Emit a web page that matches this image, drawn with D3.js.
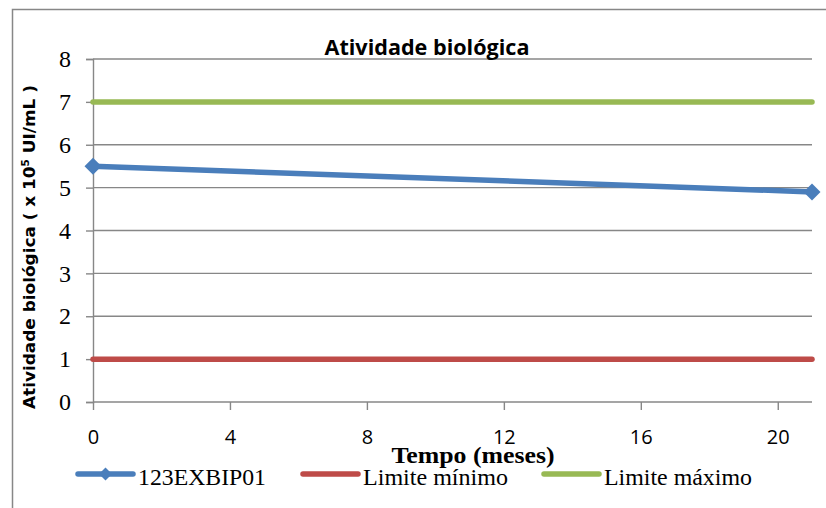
<!DOCTYPE html>
<html lang="pt">
<head>
  <meta charset="UTF-8">
  <title>Atividade biológica</title>
  <script src="https://d3js.org/d3.v7.min.js"></script>
  <style>
    body { margin: 0; background: #fff; }
  </style>
</head>
<body>
  <svg width="826" height="508"></svg>
  <script>
    // Data
    const meses = [0, 21];
    const amostra = [5.5, 4.9];          // 123EXBIP01
    const limiteMinimo = [1, 1];
    const limiteMaximo = [7, 7];
    const xTicks = [0, 4, 8, 12, 16, 20];
    const yTicks = [0, 1, 2, 3, 4, 5, 6, 7, 8];

    const series = [
      { name: '123EXBIP01', values: amostra, color: '#4a7ebb', marker: true },
      { name: 'Limite mínimo', values: limiteMinimo, color: '#be4b48', marker: false },
      { name: 'Limite máximo', values: limiteMaximo, color: '#98b954', marker: false }
    ];

    const svg = d3.select('svg');
    const grey = '#878787';

    // Outer chart border (clipped on right and bottom)
    svg.append('path')
      .attr('d', 'M12.5,508 L12.5,9.5 L826,9.5')
      .attr('fill', 'none')
      .attr('stroke', grey)
      .attr('stroke-width', 1.5);

    const x = d3.scaleLinear().domain([0, 21]).range([93, 812]);
    const y = d3.scaleLinear().domain([0, 8]).range([402, 59]);

    // Horizontal gridlines
    svg.append('g')
      .selectAll('line')
      .data(yTicks.filter(d => d > 0))
      .enter()
      .append('line')
      .attr('x1', x(0))
      .attr('x2', x(21))
      .attr('y1', d => y(d))
      .attr('y2', d => y(d))
      .attr('stroke', grey)
      .attr('stroke-width', 1.4);

    // Y axis
    const yAxis = svg.append('g')
      .attr('transform', `translate(${x(0)},0)`)
      .call(d3.axisLeft(y).tickValues(yTicks).tickSize(7).tickPadding(15).tickFormat(d3.format('d')));
    yAxis.select('.domain').attr('stroke', grey).attr('stroke-width', 1.4);
    yAxis.selectAll('.tick line').attr('stroke', grey).attr('stroke-width', 1.4);
    yAxis.selectAll('.tick text')
      .attr('font-family', '"Liberation Serif", serif')
      .attr('font-size', 24)
      .attr('fill', '#000');

    // X axis
    const xAxis = svg.append('g')
      .attr('transform', `translate(0,${y(0)})`)
      .call(d3.axisBottom(x).tickValues(xTicks).tickSize(8).tickPadding(20).tickFormat(d3.format('d')));
    xAxis.select('.domain').attr('stroke', grey).attr('stroke-width', 1.4).attr('d', `M${x(0)},0H${x(21)}`);
    xAxis.selectAll('.tick line').attr('stroke', grey).attr('stroke-width', 1.4);
    xAxis.selectAll('.tick text')
      .attr('font-family', '"Open Sans", sans-serif')
      .attr('font-size', 20)
      .attr('fill', '#000');

    // Lines
    const line = d3.line()
      .x((d, i) => x(meses[i]))
      .y(d => y(d));

    svg.append('g')
      .selectAll('path')
      .data(series.slice().reverse())
      .enter()
      .append('path')
      .attr('d', d => line(d.values))
      .attr('fill', 'none')
      .attr('stroke', d => d.color)
      .attr('stroke-width', 5.5)
      .attr('stroke-linecap', 'round');

    const diamond = r => `M0,${-r}L${r},0L0,${r}L${-r},0Z`;

    svg.append('g')
      .selectAll('path')
      .data(amostra)
      .enter()
      .append('path')
      .attr('transform', (d, i) => `translate(${x(meses[i])},${y(d)})`)
      .attr('d', diamond(8.5))
      .attr('fill', '#4a7ebb');

    // Title
    svg.append('text')
      .attr('x', 427)
      .attr('y', 55)
      .attr('text-anchor', 'middle')
      .attr('font-family', '"Open Sans", sans-serif')
      .attr('font-weight', 'bold')
      .attr('font-size', 22)
      .attr('textLength', 205)
      .attr('lengthAdjust', 'spacingAndGlyphs')
      .text('Atividade biológica');

    // Y axis title
    const yTitle = svg.append('text')
      .attr('transform', 'translate(35,247) rotate(-90)')
      .attr('text-anchor', 'middle')
      .attr('font-family', '"DejaVu Sans", sans-serif')
      .attr('font-weight', 'bold')
      .attr('font-size', 16)
      .attr('textLength', 324)
      .attr('lengthAdjust', 'spacingAndGlyphs');
    yTitle.append('tspan').text('Atividade biológica  ( x 10');
    yTitle.append('tspan').attr('font-size', 10).attr('dy', -6).text('5');
    yTitle.append('tspan').attr('dy', 6).text(' UI/mL )');

    // X axis title
    svg.append('text')
      .attr('x', 473)
      .attr('y', 463)
      .attr('text-anchor', 'middle')
      .attr('font-family', '"Liberation Serif", serif')
      .attr('font-weight', 'bold')
      .attr('font-size', 24)
      .attr('textLength', 163)
      .attr('lengthAdjust', 'spacingAndGlyphs')
      .text('Tempo  (meses)');

    // Legend
    const legendX = [78, 303, 544];
    const legendLen = [128, 145, 148];
    const legend = svg.append('g')
      .selectAll('g')
      .data(series)
      .enter()
      .append('g')
      .attr('transform', (d, i) => `translate(${legendX[i]},474)`);

    legend.append('line')
      .attr('x1', 0)
      .attr('x2', 55)
      .attr('stroke', d => d.color)
      .attr('stroke-width', 5.5)
      .attr('stroke-linecap', 'round');

    legend.filter(d => d.marker)
      .append('path')
      .attr('transform', 'translate(27.5,0)')
      .attr('d', diamond(6.5))
      .attr('fill', d => d.color);

    legend.append('text')
      .attr('x', 60)
      .attr('y', 11)
      .attr('font-family', '"Liberation Serif", serif')
      .attr('font-size', 23)
      .attr('fill', '#000')
      .attr('textLength', (d, i) => legendLen[i])
      .attr('lengthAdjust', 'spacingAndGlyphs')
      .text(d => d.name);
  </script>
</body>
</html>
